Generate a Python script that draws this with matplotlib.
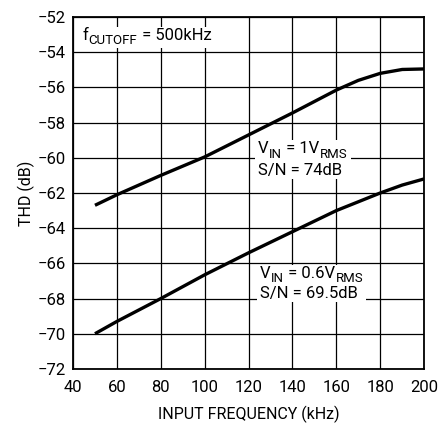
import matplotlib.pyplot as plt
from matplotlib.patches import Rectangle
from matplotlib.transforms import Bbox

# dados
freq_1v = [50, 60, 80, 100, 120, 140, 160, 170, 180, 190, 200]
thd_1v = [-62.7, -62.1, -61.0, -59.95, -58.7, -57.45, -56.15, -55.6, -55.2, -54.98, -54.95]
freq_06v = [50, 60, 80, 100, 120, 140, 160, 180, 190, 200]
thd_06v = [-70.0, -69.3, -68.0, -66.65, -65.4, -64.2, -63.0, -62.0, -61.55, -61.2]

xticks = list(range(40, 201, 20))
yticks = list(range(-72, -51, 2))

plt.rcParams['font.family'] = ['Roboto', 'DejaVu Sans']

fig = plt.figure(figsize=(4.4, 4.26), dpi=100)
ax = fig.add_axes([0.166, 0.134, 0.798, 0.826])

ax.plot(freq_1v, thd_1v, color='black', lw=2.4, solid_capstyle='butt', zorder=3)
ax.plot(freq_06v, thd_06v, color='black', lw=2.4, solid_capstyle='butt', zorder=3)

ax.set_xlim(40, 200)
ax.set_ylim(-72, -52)
ax.set_xticks(xticks)
ax.set_yticks(yticks)
ax.set_yticklabels([str(v).replace('-', '\u2212') for v in yticks])
ax.tick_params(length=0, labelsize=12)
ax.tick_params(axis='x', pad=8)
ax.tick_params(axis='y', pad=5)
ax.grid(True, color='black', lw=0.9)
for s in ax.spines.values():
    s.set_linewidth(1.3)

ax.set_xlabel('INPUT FREQUENCY (kHz)', fontsize=11.5, labelpad=8)
ax.set_ylabel('THD (dB)', fontsize=11.5, labelpad=2)


# texto com subscrito maior que o do mathtext
def rich(x, y, pieces, size=12, sub=9.5):
    prev = ax.text(x, y, pieces[0], fontsize=size, va='baseline', ha='left', zorder=5)
    out = [prev]
    for i, s in enumerate(pieces[1:]):
        is_sub = (i % 2 == 0)
        prev = ax.annotate(s, xy=(1, y), xycoords=(prev, 'data'),
                           xytext=(0.3, -3.2 if is_sub else 0), textcoords='offset points',
                           fontsize=sub if is_sub else size, va='baseline', ha='left', zorder=5)
        out.append(prev)
    return out


groups = []
groups.append(rich(44.2, -53.3, ['f', 'CUTOFF', ' = 500kHz']))
g = rich(124.3, -59.75, ['V', 'IN', ' = 1V', 'RMS'])
g.append(ax.text(124.3, -60.98, 'S/N = 74dB', fontsize=12, va='baseline', ha='left', zorder=5))
groups.append(g)
g = rich(125.0, -66.83, ['V', 'IN', ' = 0.6V', 'RMS'])
g.append(ax.text(125.0, -67.97, 'S/N = 69.5dB', fontsize=12, va='baseline', ha='left', zorder=5))
groups.append(g)

# fundo branco atrás de cada rótulo
fig.canvas.draw()
r = fig.canvas.get_renderer()
inv = fig.transFigure.inverted()
for g in groups:
    bb = Bbox.union([t.get_window_extent(r) for t in g])
    (x0, y0), (x1, y1) = inv.transform([[bb.x0 - 3, bb.y0 - 1], [bb.x1 + 3, bb.y1 + 1]])
    ax.add_patch(Rectangle((x0, y0), x1 - x0, y1 - y0, transform=fig.transFigure,
                           facecolor='white', edgecolor='none', zorder=4, clip_on=False))

fig.savefig('out.png', dpi=100)
